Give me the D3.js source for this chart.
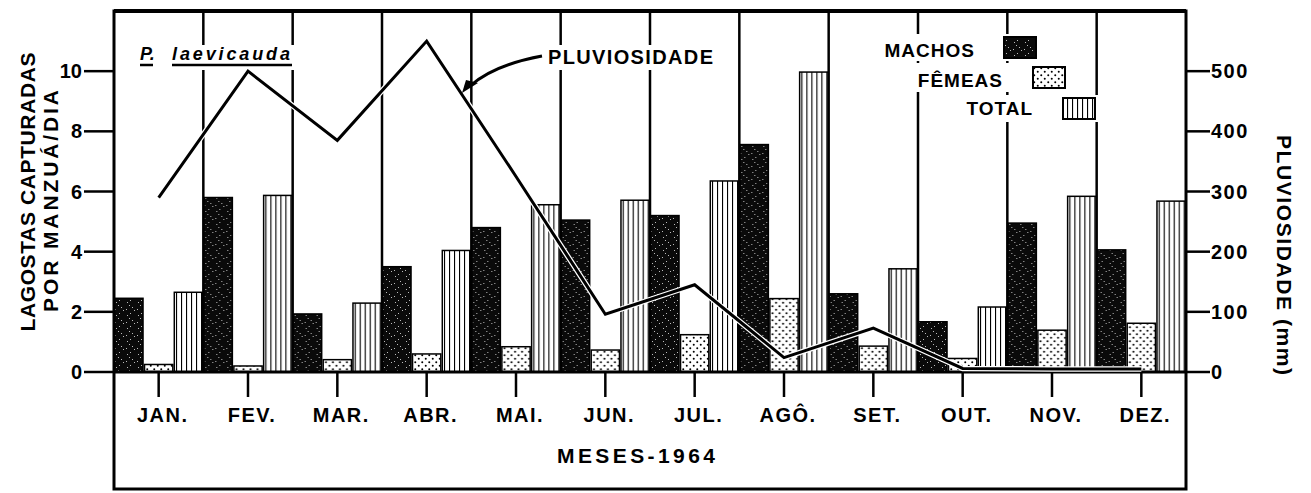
<!DOCTYPE html>
<html>
<head>
<meta charset="utf-8">
<script src="https://cdn.jsdelivr.net/npm/d3@7"></script>
<style>
  body { margin: 0; background: #fff; }
  svg { display: block; }
  text { font-family: "Liberation Sans", Arial, sans-serif; font-weight: bold; fill: #000; }
</style>
</head>
<body>
<svg id="chart" width="1311" height="493"></svg>
<script>
// meses e valores
const months = ["JAN.", "FEV.", "MAR.", "ABR.", "MAI.", "JUN.", "JUL.", "AGÔ.", "SET.", "OUT.", "NOV.", "DEZ."];
const series = ["machos", "femeas", "total"];
const machos = [2.45, 5.8, 1.93, 3.5, 4.8, 5.05, 5.2, 7.56, 2.6, 1.67, 4.95, 4.06];
const femeas = [0.25, 0.2, 0.41, 0.6, 0.84, 0.73, 1.24, 2.44, 0.86, 0.45, 1.39, 1.62];
const total  = [2.65, 5.87, 2.29, 4.04, 5.56, 5.71, 6.35, 9.97, 3.43, 2.16, 5.84, 5.68];
const chuva  = [290, 500, 385, 550, 325, 96, 145, 24, 73, 6, 5, 5];   // mm
const yTicks = [0, 2, 4, 6, 8, 10];
const rTicks = [0, 100, 200, 300, 400, 500];
const legendNames = ["MACHOS", "FÊMEAS", "TOTAL"];

const svg = d3.select("#chart");
const pLeft = 114, pRight = 1186, pTop = 11, pBase = 372, pBottom = 489;

const x = d3.scaleBand().domain(months).range([pLeft, pRight]).padding(0);
const xs = d3.scaleBand().domain(series).range([0, x.bandwidth()]).padding(0);
const y = d3.scaleLinear().domain([0, 12]).range([pBase, pTop]);
const yR = d3.scaleLinear().domain([0, 600]).range([pBase, pTop]);

//==patterns==//
const defs = svg.append("defs");
let pm = defs.append("pattern").attr("id", "pMachos").attr("patternUnits", "userSpaceOnUse")
  .attr("width", 11).attr("height", 13);
pm.append("rect").attr("width", 11).attr("height", 13).attr("fill", "#0a0a0a");
[[2,3],[7,8],[5,1],[9,11],[1,10],[4,6]].forEach(p => {
  pm.append("rect").attr("x", p[0]).attr("y", p[1]).attr("width", 1).attr("height", 1).attr("fill", "#bbb");
});
let pf = defs.append("pattern").attr("id", "pFemeas").attr("patternUnits", "userSpaceOnUse")
  .attr("width", 7).attr("height", 7);
pf.append("rect").attr("width", 7).attr("height", 7).attr("fill", "#fff");
pf.append("circle").attr("cx", 1.75).attr("cy", 1.75).attr("r", 1).attr("fill", "#000");
pf.append("circle").attr("cx", 5.25).attr("cy", 5.25).attr("r", 1).attr("fill", "#000");
let pt = defs.append("pattern").attr("id", "pTotal").attr("patternUnits", "userSpaceOnUse")
  .attr("width", 5).attr("height", 10);
pt.append("rect").attr("width", 5).attr("height", 10).attr("fill", "#fff");
pt.append("rect").attr("x", 2).attr("width", 1.1).attr("height", 10).attr("fill", "#000");
const fills = { machos: "url(#pMachos)", femeas: "url(#pFemeas)", total: "url(#pTotal)" };

//==moldura e separadores==//
svg.append("rect").attr("x", pLeft).attr("y", pTop).attr("width", pRight - pLeft).attr("height", pBottom - pTop)
  .attr("fill", "none").attr("stroke", "#000").attr("stroke-width", 3);
svg.append("line").attr("x1", pLeft).attr("x2", pRight).attr("y1", pTop).attr("y2", pTop)
  .attr("stroke", "#000").attr("stroke-width", 4);
svg.selectAll("line.sep").data(months.slice(1)).enter().append("line")
  .attr("x1", d => x(d)).attr("x2", d => x(d)).attr("y1", pTop).attr("y2", pBase)
  .attr("stroke", "#000").attr("stroke-width", 2.5);

//==textos com fundo branco (quebram os separadores)==//
svg.append("rect").attr("x", 137).attr("y", 45).attr("width", 160).attr("height", 25).attr("fill", "#fff");
svg.append("rect").attr("x", 544).attr("y", 45).attr("width", 174).attr("height", 25).attr("fill", "#fff");
svg.append("rect").attr("x", 880).attr("y", 34).attr("width", 160).attr("height", 27).attr("fill", "#fff");
svg.append("rect").attr("x", 908).attr("y", 63).attr("width", 162).attr("height", 29).attr("fill", "#fff");
svg.append("rect").attr("x", 962).attr("y", 95).attr("width", 136).attr("height", 27).attr("fill", "#fff");

svg.append("text").attr("x", 140).attr("y", 60).style("font-style", "italic").style("font-size", "18px").text("P.");
svg.append("text").attr("x", 172).attr("y", 60).style("font-style", "italic").style("font-size", "18px")
  .attr("textLength", 118).attr("lengthAdjust", "spacing").text("laevicauda");
svg.append("line").attr("x1", 140).attr("x2", 153).attr("y1", 65).attr("y2", 65).attr("stroke", "#000").attr("stroke-width", 2.5);
svg.append("line").attr("x1", 172).attr("x2", 292).attr("y1", 65).attr("y2", 65).attr("stroke", "#000").attr("stroke-width", 2.5);

svg.append("text").attr("x", 548).attr("y", 64).style("font-size", "20px")
  .attr("textLength", 165).attr("lengthAdjust", "spacing").text("PLUVIOSIDADE");

//==legenda==//
const legEnd = [975, 1003, 1033];
const legBase = [57, 87, 115];
const legBox = [[1004, 37], [1033, 67], [1063, 98]];
series.forEach((s, i) => {
  svg.append("text").attr("x", legEnd[i]).attr("y", legBase[i]).attr("text-anchor", "end")
    .style("font-size", "19px").style("letter-spacing", "1px").text(legendNames[i]);
  svg.append("rect").attr("x", legBox[i][0]).attr("y", legBox[i][1]).attr("width", 32).attr("height", 21)
    .attr("fill", fills[s]).attr("stroke", "#000").attr("stroke-width", 2);
});

//==barras==//
const dataRows = months.map((m, i) => ({ month: m, machos: machos[i], femeas: femeas[i], total: total[i] }));
const groups = svg.selectAll("g.month").data(dataRows).enter().append("g")
  .attr("transform", d => `translate(${x(d.month)},0)`);
groups.selectAll("rect").data(d => series.map(s => ({ key: s, value: d[s] }))).enter().append("rect")
  .attr("x", d => xs(d.key) + 0.75)
  .attr("y", d => y(d.value))
  .attr("width", xs.bandwidth() - 1.5)
  .attr("height", d => y(0) - y(d.value))
  .attr("fill", d => fills[d.key])
  .attr("stroke", "#000").attr("stroke-width", 1.5);

//==linha base e eixos==//
svg.append("line").attr("x1", pLeft).attr("x2", pRight).attr("y1", pBase).attr("y2", pBase)
  .attr("stroke", "#000").attr("stroke-width", 3);
svg.selectAll("line.lt").data(yTicks).enter().append("line")
  .attr("x1", 84).attr("x2", pLeft).attr("y1", d => y(d)).attr("y2", d => y(d))
  .attr("stroke", "#000").attr("stroke-width", 2.5);
svg.selectAll("text.lt").data(yTicks).enter().append("text")
  .attr("x", 82).attr("y", d => y(d) + 7).attr("text-anchor", "end")
  .style("font-size", "20px").text(d => d);
svg.selectAll("line.rt").data(rTicks).enter().append("line")
  .attr("x1", pRight).attr("x2", 1210).attr("y1", d => yR(d)).attr("y2", d => yR(d))
  .attr("stroke", "#000").attr("stroke-width", 2.5);
svg.selectAll("text.rt").data(rTicks).enter().append("text")
  .attr("x", 1211).attr("y", d => yR(d) + 7)
  .style("font-size", "20px").style("letter-spacing", "1.5px").text(d => d);

svg.selectAll("line.mt").data(months).enter().append("line")
  .attr("x1", d => x(d) + x.bandwidth() / 2).attr("x2", d => x(d) + x.bandwidth() / 2)
  .attr("y1", pBase).attr("y2", pBase + 25).attr("stroke", "#000").attr("stroke-width", 2.5);
svg.selectAll("text.mt").data(months).enter().append("text")
  .attr("x", d => x(d) + x.bandwidth() / 2 + 4).attr("y", 422).attr("text-anchor", "middle")
  .style("font-size", "20px").style("letter-spacing", "1.5px").text(d => d);
svg.append("text").attr("x", 557).attr("y", 463).style("font-size", "21px")
  .attr("textLength", 158).attr("lengthAdjust", "spacing").text("MESES-1964");

svg.append("text").attr("transform", "translate(27,192) rotate(-90)").attr("text-anchor", "middle")
  .attr("dominant-baseline", "central").style("font-size", "21px")
  .attr("textLength", 279).attr("lengthAdjust", "spacing").text("LAGOSTAS CAPTURADAS");
svg.append("text").attr("transform", "translate(50,201) rotate(-90)").attr("text-anchor", "middle")
  .attr("dominant-baseline", "central").style("font-size", "21px")
  .attr("textLength", 222).attr("lengthAdjust", "spacing").text("POR MANZUÁ/DIA");
svg.append("text").attr("transform", "translate(1284,255) rotate(90)").attr("text-anchor", "middle")
  .attr("dominant-baseline", "central").style("font-size", "21px")
  .attr("textLength", 240).attr("lengthAdjust", "spacing").text("PLUVIOSIDADE (mm)");

//==pluviosidade==//
const line = d3.line().x((d, i) => x(months[i]) + x.bandwidth() / 2).y(d => yR(d));
svg.append("path").attr("d", line(chuva)).attr("fill", "none").attr("stroke", "#fff")
  .attr("stroke-width", 5.5).attr("stroke-linejoin", "miter");
svg.append("path").attr("d", line(chuva)).attr("fill", "none").attr("stroke", "#000")
  .attr("stroke-width", 3).attr("stroke-linejoin", "miter");

// seta da legenda PLUVIOSIDADE
svg.append("path").attr("d", "M542,56 C515,61 488,70 470,86").attr("fill", "none")
  .attr("stroke", "#000").attr("stroke-width", 3);
svg.append("path").attr("d", "M462,93 L466,80 L478,83 Z").attr("fill", "#000");
</script>
</body>
</html>
